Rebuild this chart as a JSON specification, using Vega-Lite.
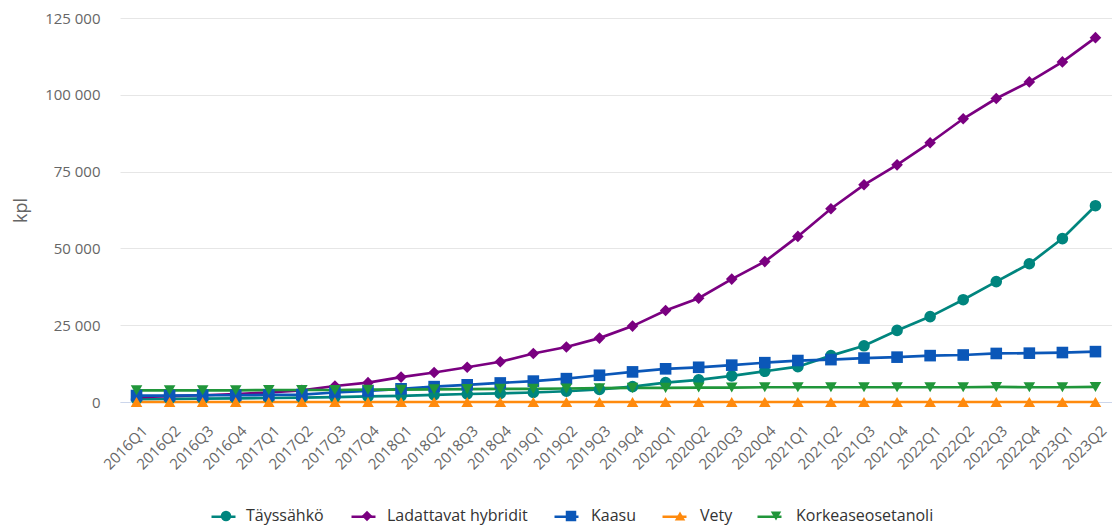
{
  "$schema": "https://vega.github.io/schema/vega-lite/v6.json",
  "autosize": {"type": "none"},
  "padding": {"left": 120, "top": 18, "right": 0, "bottom": 125},
  "width": 992,
  "height": 384,
  "background": "white",
  "data": {"values": [
    {"q":"2016Q1","s":"Täyssähkö","v":900},{"q":"2016Q2","s":"Täyssähkö","v":1000},{"q":"2016Q3","s":"Täyssähkö","v":1100},{"q":"2016Q4","s":"Täyssähkö","v":1200},
    {"q":"2017Q1","s":"Täyssähkö","v":1300},{"q":"2017Q2","s":"Täyssähkö","v":1400},{"q":"2017Q3","s":"Täyssähkö","v":1600},{"q":"2017Q4","s":"Täyssähkö","v":1800},
    {"q":"2018Q1","s":"Täyssähkö","v":2000},{"q":"2018Q2","s":"Täyssähkö","v":2300},{"q":"2018Q3","s":"Täyssähkö","v":2600},{"q":"2018Q4","s":"Täyssähkö","v":2800},
    {"q":"2019Q1","s":"Täyssähkö","v":3100},{"q":"2019Q2","s":"Täyssähkö","v":3500},{"q":"2019Q3","s":"Täyssähkö","v":4100},{"q":"2019Q4","s":"Täyssähkö","v":5000},
    {"q":"2020Q1","s":"Täyssähkö","v":6300},{"q":"2020Q2","s":"Täyssähkö","v":7200},{"q":"2020Q3","s":"Täyssähkö","v":8500},{"q":"2020Q4","s":"Täyssähkö","v":10000},
    {"q":"2021Q1","s":"Täyssähkö","v":11500},{"q":"2021Q2","s":"Täyssähkö","v":15100},{"q":"2021Q3","s":"Täyssähkö","v":18300},{"q":"2021Q4","s":"Täyssähkö","v":23300},
    {"q":"2022Q1","s":"Täyssähkö","v":27800},{"q":"2022Q2","s":"Täyssähkö","v":33300},{"q":"2022Q3","s":"Täyssähkö","v":39200},{"q":"2022Q4","s":"Täyssähkö","v":45000},
    {"q":"2023Q1","s":"Täyssähkö","v":53200},{"q":"2023Q2","s":"Täyssähkö","v":63900},

    {"q":"2016Q1","s":"Ladattavat hybridit","v":1600},{"q":"2016Q2","s":"Ladattavat hybridit","v":1900},{"q":"2016Q3","s":"Ladattavat hybridit","v":2200},{"q":"2016Q4","s":"Ladattavat hybridit","v":2600},
    {"q":"2017Q1","s":"Ladattavat hybridit","v":3100},{"q":"2017Q2","s":"Ladattavat hybridit","v":3800},{"q":"2017Q3","s":"Ladattavat hybridit","v":5200},{"q":"2017Q4","s":"Ladattavat hybridit","v":6300},
    {"q":"2018Q1","s":"Ladattavat hybridit","v":8100},{"q":"2018Q2","s":"Ladattavat hybridit","v":9600},{"q":"2018Q3","s":"Ladattavat hybridit","v":11300},{"q":"2018Q4","s":"Ladattavat hybridit","v":13100},
    {"q":"2019Q1","s":"Ladattavat hybridit","v":15800},{"q":"2019Q2","s":"Ladattavat hybridit","v":17900},{"q":"2019Q3","s":"Ladattavat hybridit","v":20800},{"q":"2019Q4","s":"Ladattavat hybridit","v":24700},
    {"q":"2020Q1","s":"Ladattavat hybridit","v":29800},{"q":"2020Q2","s":"Ladattavat hybridit","v":33800},{"q":"2020Q3","s":"Ladattavat hybridit","v":40000},{"q":"2020Q4","s":"Ladattavat hybridit","v":45700},
    {"q":"2021Q1","s":"Ladattavat hybridit","v":53900},{"q":"2021Q2","s":"Ladattavat hybridit","v":62900},{"q":"2021Q3","s":"Ladattavat hybridit","v":70700},{"q":"2021Q4","s":"Ladattavat hybridit","v":77200},
    {"q":"2022Q1","s":"Ladattavat hybridit","v":84400},{"q":"2022Q2","s":"Ladattavat hybridit","v":92200},{"q":"2022Q3","s":"Ladattavat hybridit","v":98800},{"q":"2022Q4","s":"Ladattavat hybridit","v":104200},
    {"q":"2023Q1","s":"Ladattavat hybridit","v":110700},{"q":"2023Q2","s":"Ladattavat hybridit","v":118600},

    {"q":"2016Q1","s":"Kaasu","v":2100},{"q":"2016Q2","s":"Kaasu","v":2100},{"q":"2016Q3","s":"Kaasu","v":2200},{"q":"2016Q4","s":"Kaasu","v":2200},
    {"q":"2017Q1","s":"Kaasu","v":2300},{"q":"2017Q2","s":"Kaasu","v":2400},{"q":"2017Q3","s":"Kaasu","v":3100},{"q":"2017Q4","s":"Kaasu","v":3600},
    {"q":"2018Q1","s":"Kaasu","v":4300},{"q":"2018Q2","s":"Kaasu","v":5000},{"q":"2018Q3","s":"Kaasu","v":5600},{"q":"2018Q4","s":"Kaasu","v":6200},
    {"q":"2019Q1","s":"Kaasu","v":6800},{"q":"2019Q2","s":"Kaasu","v":7600},{"q":"2019Q3","s":"Kaasu","v":8700},{"q":"2019Q4","s":"Kaasu","v":9800},
    {"q":"2020Q1","s":"Kaasu","v":10800},{"q":"2020Q2","s":"Kaasu","v":11300},{"q":"2020Q3","s":"Kaasu","v":12000},{"q":"2020Q4","s":"Kaasu","v":12800},
    {"q":"2021Q1","s":"Kaasu","v":13500},{"q":"2021Q2","s":"Kaasu","v":13800},{"q":"2021Q3","s":"Kaasu","v":14300},{"q":"2021Q4","s":"Kaasu","v":14600},
    {"q":"2022Q1","s":"Kaasu","v":15100},{"q":"2022Q2","s":"Kaasu","v":15300},{"q":"2022Q3","s":"Kaasu","v":15800},{"q":"2022Q4","s":"Kaasu","v":15900},
    {"q":"2023Q1","s":"Kaasu","v":16100},{"q":"2023Q2","s":"Kaasu","v":16400},

    {"q":"2016Q1","s":"Vety","v":0},{"q":"2016Q2","s":"Vety","v":0},{"q":"2016Q3","s":"Vety","v":0},{"q":"2016Q4","s":"Vety","v":0},
    {"q":"2017Q1","s":"Vety","v":0},{"q":"2017Q2","s":"Vety","v":0},{"q":"2017Q3","s":"Vety","v":0},{"q":"2017Q4","s":"Vety","v":0},
    {"q":"2018Q1","s":"Vety","v":0},{"q":"2018Q2","s":"Vety","v":0},{"q":"2018Q3","s":"Vety","v":0},{"q":"2018Q4","s":"Vety","v":0},
    {"q":"2019Q1","s":"Vety","v":0},{"q":"2019Q2","s":"Vety","v":0},{"q":"2019Q3","s":"Vety","v":0},{"q":"2019Q4","s":"Vety","v":0},
    {"q":"2020Q1","s":"Vety","v":0},{"q":"2020Q2","s":"Vety","v":0},{"q":"2020Q3","s":"Vety","v":0},{"q":"2020Q4","s":"Vety","v":0},
    {"q":"2021Q1","s":"Vety","v":0},{"q":"2021Q2","s":"Vety","v":0},{"q":"2021Q3","s":"Vety","v":0},{"q":"2021Q4","s":"Vety","v":0},
    {"q":"2022Q1","s":"Vety","v":0},{"q":"2022Q2","s":"Vety","v":0},{"q":"2022Q3","s":"Vety","v":0},{"q":"2022Q4","s":"Vety","v":0},
    {"q":"2023Q1","s":"Vety","v":0},{"q":"2023Q2","s":"Vety","v":0},

    {"q":"2016Q1","s":"Korkeaseosetanoli","v":3800},{"q":"2016Q2","s":"Korkeaseosetanoli","v":3800},{"q":"2016Q3","s":"Korkeaseosetanoli","v":3800},{"q":"2016Q4","s":"Korkeaseosetanoli","v":3800},
    {"q":"2017Q1","s":"Korkeaseosetanoli","v":3900},{"q":"2017Q2","s":"Korkeaseosetanoli","v":3900},{"q":"2017Q3","s":"Korkeaseosetanoli","v":3900},{"q":"2017Q4","s":"Korkeaseosetanoli","v":4000},
    {"q":"2018Q1","s":"Korkeaseosetanoli","v":4000},{"q":"2018Q2","s":"Korkeaseosetanoli","v":4100},{"q":"2018Q3","s":"Korkeaseosetanoli","v":4200},{"q":"2018Q4","s":"Korkeaseosetanoli","v":4300},
    {"q":"2019Q1","s":"Korkeaseosetanoli","v":4300},{"q":"2019Q2","s":"Korkeaseosetanoli","v":4400},{"q":"2019Q3","s":"Korkeaseosetanoli","v":4500},{"q":"2019Q4","s":"Korkeaseosetanoli","v":4600},
    {"q":"2020Q1","s":"Korkeaseosetanoli","v":4600},{"q":"2020Q2","s":"Korkeaseosetanoli","v":4700},{"q":"2020Q3","s":"Korkeaseosetanoli","v":4700},{"q":"2020Q4","s":"Korkeaseosetanoli","v":4800},
    {"q":"2021Q1","s":"Korkeaseosetanoli","v":4800},{"q":"2021Q2","s":"Korkeaseosetanoli","v":4800},{"q":"2021Q3","s":"Korkeaseosetanoli","v":4800},{"q":"2021Q4","s":"Korkeaseosetanoli","v":4800},
    {"q":"2022Q1","s":"Korkeaseosetanoli","v":4800},{"q":"2022Q2","s":"Korkeaseosetanoli","v":4800},{"q":"2022Q3","s":"Korkeaseosetanoli","v":4900},{"q":"2022Q4","s":"Korkeaseosetanoli","v":4800},
    {"q":"2023Q1","s":"Korkeaseosetanoli","v":4800},{"q":"2023Q2","s":"Korkeaseosetanoli","v":4900}
  ]},
  "encoding": {
    "x": {
      "field": "q", "type": "ordinal", "sort": null,
      "scale": {"type": "point", "padding": 0.5},
      "axis": {
        "title": null, "labelAngle": -45, "labelAlign": "right", "labelBaseline": "top",
        "labelOffset": 3, "labelPadding": 21, "ticks": false, "tickSize": 0,
        "domainColor": "#ccd6eb", "domainWidth": 1, "grid": false,
        "labelColor": "#666666", "labelFontSize": 15, "labelFont": "Open Sans"
      }
    },
    "y": {
      "field": "v", "type": "quantitative",
      "scale": {"domain": [0, 125000], "nice": false},
      "axis": {
        "title": "kpl", "values": [0, 25000, 50000, 75000, 100000, 125000],
        "labelExpr": "replace(format(datum.value, ','), ',', ' ')",
        "domain": false, "ticks": false, "tickSize": 0, "labelPadding": 20,
        "gridColor": "#e6e6e6", "gridWidth": 1,
        "labelColor": "#666666", "labelFontSize": 15, "labelFont": "Open Sans",
        "titleColor": "#666666", "titleFontSize": 18, "titleFont": "Open Sans", "titleFontWeight": "normal",
        "titleX": -99, "titleY": 192, "titleAngle": -90, "titleAlign": "center", "titleBaseline": "middle"
      }
    }
  },
  "layer": [
    {
      "mark": {"type": "line", "strokeWidth": 2.7},
      "encoding": {
        "color": {
          "field": "s", "type": "nominal",
          "scale": {
            "domain": ["Täyssähkö", "Ladattavat hybridit", "Kaasu", "Vety", "Korkeaseosetanoli"],
            "range": ["#00857e", "#7a0080", "#0b57b8", "#ff8a0d", "#20963a"]
          },
          "legend": {
            "title": null, "orient": "none", "direction": "horizontal",
            "legendX": 90, "legendY": 485,
            "symbolType": "stroke", "symbolSize": 576, "symbolStrokeWidth": 2.5,
            "labelOffset": 4, "columnPadding": 27, "labelOpacity": 0,
            "labelFont": "Open Sans", "labelFontSize": 16, "labelColor": "#333333"
          }
        }
      }
    },
    {
      "mark": {"type": "point", "filled": true, "opacity": 1, "size": 135},
      "encoding": {
        "color": {
          "field": "s", "type": "nominal",
          "scale": {
            "domain": ["Täyssähkö", "Ladattavat hybridit", "Kaasu", "Vety", "Korkeaseosetanoli"],
            "range": ["#00857e", "#7a0080", "#0b57b8", "#ff8a0d", "#20963a"]
          },
          "legend": {
            "title": null, "orient": "none", "direction": "horizontal",
            "legendX": 98, "legendY": 490,
            "symbolSize": 110, "symbolStrokeWidth": 0, "symbolOpacity": 1,
            "labelOffset": 12, "columnPadding": 35,
            "labelFont": "Open Sans", "labelFontSize": 16, "labelColor": "#333333"
          }
        },
        "shape": {
          "field": "s", "type": "nominal",
          "scale": {
            "domain": ["Täyssähkö", "Ladattavat hybridit", "Kaasu", "Vety", "Korkeaseosetanoli"],
            "range": ["circle", "diamond", "square", "triangle-up", "triangle-down"]
          },
          "legend": {
            "title": null, "orient": "none", "direction": "horizontal",
            "legendX": 98, "legendY": 490,
            "symbolSize": 110, "symbolStrokeWidth": 0, "symbolOpacity": 1,
            "labelOffset": 12, "columnPadding": 35,
            "labelFont": "Open Sans", "labelFontSize": 16, "labelColor": "#333333"
          }
        }
      }
    }
  ],
  "resolve": {"legend": {"color": "independent", "shape": "independent"}},
  "config": {
    "view": {"stroke": null},
    "font": "Open Sans"
  }
}
